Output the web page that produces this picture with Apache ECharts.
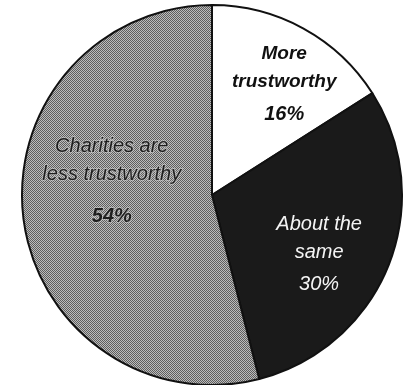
<!DOCTYPE html>
<html><head><meta charset="utf-8">
<script src="https://cdn.jsdelivr.net/npm/echarts@6/dist/echarts.min.js"></script>
<style>html,body{margin:0;padding:0;background:#fff}#c{width:405px;height:385px}</style>
</head><body><div id="c"></div>
<script>
const categories = ['More\ntrustworthy', 'About the\nsame', 'Charities are\nless trustworthy'];
const values = [16, 30, 54];

// stipple pattern for the grey slice
const pc = document.createElement('canvas');
pc.width = 2; pc.height = 2;
const pctx = pc.getContext('2d');
pctx.fillStyle = '#bcbcbc'; pctx.fillRect(0,0,2,2);
pctx.fillStyle = '#5e5e5e'; pctx.fillRect(0,0,1,1); pctx.fillRect(1,1,1,1);

const styles = [
  {color:'#ffffff', text:'#111', nw:'bold', vw:'bold', offset:[25,-23], border:'transparent', bw:0, fs:19, vlh:36},
  {color:'#1a1a1a', text:'#f4f4f4', nw:'normal', vw:'normal', offset:[16,25], border:'transparent', bw:0, fs:20, vlh:36},
  {color:{image: pc, repeat:'repeat'}, text:'#1e1e1e', nw:'normal', vw:'bold', offset:[-3,-19], border:'rgba(215,215,215,0.5)', bw:2, fs:20, vlh:56}
];

const chart = echarts.init(document.getElementById('c'), null, {renderer:'canvas'});
chart.setOption({
  animation:false,
  backgroundColor:'#fff',
  series:[{
    type:'pie',
    center:[212,195],
    radius:[0,190],
    startAngle:90,
    clockwise:true,
    silent:true,
    itemStyle:{borderColor:'#111', borderWidth:2},
    label:{show:true, position:'inside'},
    labelLine:{show:false},
    data: categories.map((c,i)=>({
      name:c, value:values[i],
      itemStyle:{color:styles[i].color},
      label:{
        offset:styles[i].offset,
        formatter: p => '{n|' + p.name + '}\n{v|' + p.value + '%}',
        rich:{
          n:{fontFamily:'Liberation Sans, Arial', fontStyle:'italic', fontSize:styles[i].fs, fontWeight:styles[i].nw, color:styles[i].text, lineHeight:28, align:'center', textBorderColor:styles[i].border, textBorderWidth:styles[i].bw},
          v:{fontFamily:'Liberation Sans, Arial', fontStyle:'italic', fontSize:20, fontWeight:styles[i].vw, color:styles[i].text, lineHeight:styles[i].vlh, align:'center', textBorderColor:styles[i].border, textBorderWidth:styles[i].bw}
        }
      }
    }))
  }]
});
</script></body></html>
